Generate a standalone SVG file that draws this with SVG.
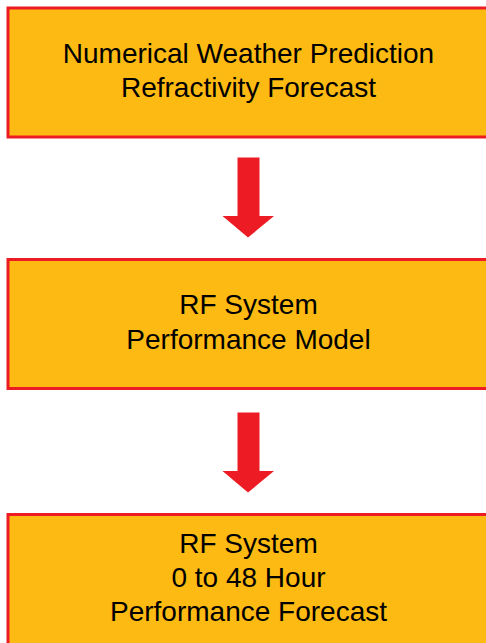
<svg xmlns="http://www.w3.org/2000/svg" width="486" height="643" viewBox="0 0 486 643">
<style>
.box{fill:#FDBA12;stroke:#ED1C24;stroke-width:3}
.t{font-family:"Liberation Sans",Arial,sans-serif;font-size:28px;fill:#000;text-anchor:middle}
.arr{fill:#ED1C24}
</style>
<rect width="486" height="643" fill="#fff"/>
<g id="node1">
<rect class="box" x="8" y="8" width="500" height="129"/>
<text class="t" x="248.5" y="63">Numerical Weather Prediction</text>
<text class="t" x="248.5" y="97">Refractivity Forecast</text>
</g>
<g id="node2">
<rect class="box" x="8" y="259.5" width="500" height="129"/>
<text class="t" x="248.5" y="314">RF System</text>
<text class="t" x="248.5" y="349">Performance Model</text>
</g>
<g id="node3">
<rect class="box" x="8" y="514.5" width="500" height="160"/>
<text class="t" x="248.5" y="553">RF System</text>
<text class="t" x="248.5" y="587">0 to 48 Hour</text>
<text class="t" x="248.5" y="621">Performance Forecast</text>
</g>
<g id="connectors">
<polygon class="arr" points="237.5,157.5 259.5,157.5 259.5,216 274,216 248,237.5 222.5,216 237.5,216"/>
<polygon class="arr" points="237.5,412.5 259.5,412.5 259.5,471 274,471 248,492.5 222.5,471 237.5,471"/>
</g>
</svg>
